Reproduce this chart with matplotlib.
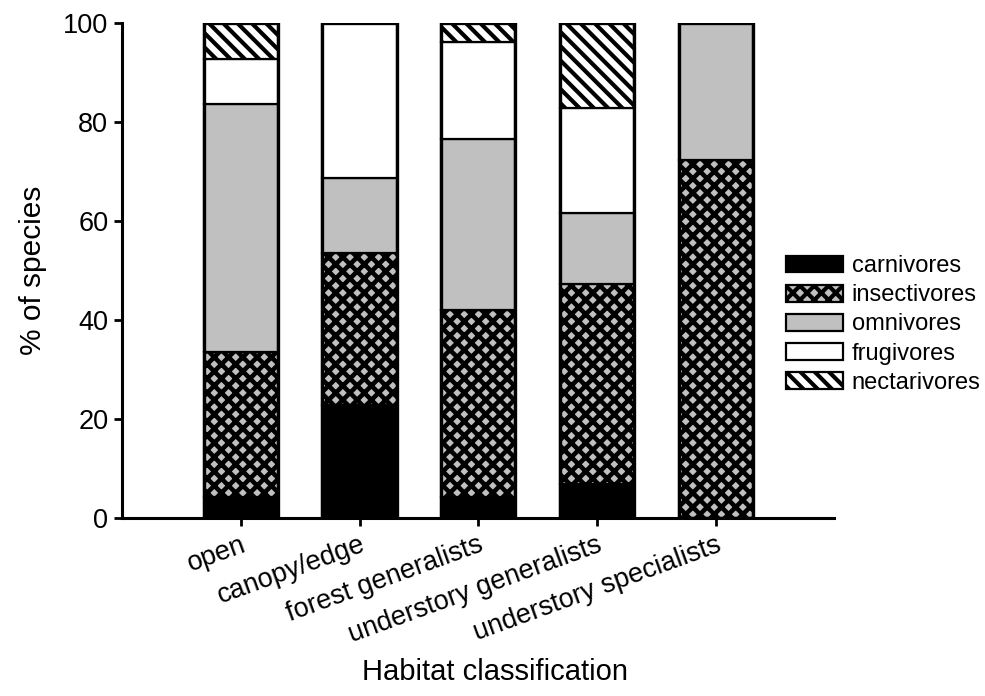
import matplotlib
matplotlib.use("Agg")
import matplotlib.pyplot as plt
from matplotlib.backend_bases import GraphicsContextBase
import numpy as np

plt.rcParams['font.family'] = ['Liberation Sans', 'DejaVu Sans']

# slightly denser hatch spacing than matplotlib's default
_orig_hatch_path = GraphicsContextBase.get_hatch_path
def _hatch_path(self, density=6.0):
    return _orig_hatch_path(self, density=7.2)
GraphicsContextBase.get_hatch_path = _hatch_path

habitats = ["open", "canopy/edge", "forest generalists", "understory generalists", "understory specialists"]
carnivores = [4.2, 22.8, 4.2, 6.9, 0.0]
insectivores = [29.3, 30.7, 37.8, 40.4, 72.3]
omnivores = [50.1, 15.2, 34.6, 14.3, 27.7]
frugivores = [9.1, 31.3, 19.6, 21.2, 0.0]
nectarivores = [7.3, 0.0, 3.8, 17.2, 0.0]

series = [
    ("carnivores", carnivores, "black", None),
    ("insectivores", insectivores, "#c0c0c0", "xx"),
    ("omnivores", omnivores, "#c0c0c0", None),
    ("frugivores", frugivores, "white", None),
    ("nectarivores", nectarivores, "white", "\\\\"),
]

fig = plt.figure(figsize=(9.85, 6.96), dpi=100)
ax = fig.add_axes([0.124, 0.256, 0.723, 0.711])

x = np.arange(len(habitats))
bottom = np.zeros(len(habitats))
handles = []
for name, vals, color, hatch in series:
    vals = np.array(vals, dtype=float)
    lw_h = 3.3 if hatch == "xx" else 3.0
    plt.rcParams['hatch.linewidth'] = lw_h
    bars = ax.bar(x, vals, width=0.625, bottom=bottom, color=color,
                  edgecolor="black", linewidth=1.6, hatch=hatch, label=name)
    for b in bars:
        if hasattr(b, "set_hatch_linewidth"):
            b.set_hatch_linewidth(lw_h)
    handles.append(bars)
    bottom = bottom + vals

# outer outline of each stacked bar
ax.bar(x, bottom, width=0.625, fill=False, edgecolor="black", linewidth=2.4)

ax.set_xlim(-1.0, 5.0)
ax.set_ylim(0, 100)
ax.set_yticks([0, 20, 40, 60, 80, 100])
ax.set_xticks(x)
ax.set_xticklabels(habitats, rotation=20, ha="right", va="top",
                   rotation_mode="anchor", fontsize=19.5)
for s in ["top", "right"]:
    ax.spines[s].set_visible(False)
for s in ["left", "bottom"]:
    ax.spines[s].set_linewidth(2.2)
ax.tick_params(axis="y", direction="out", length=6, width=2.0, labelsize=19.5, pad=4)
ax.tick_params(axis="x", direction="out", length=6, width=2.0, pad=4)
ax.set_ylabel("% of species", fontsize=21.5)
ax.yaxis.set_label_coords(-0.105, 0.5)
fig.text(495 / 985, 1 - 672 / 696, "Habitat classification", fontsize=21,
         ha="center", va="center")

leg = fig.legend(handles=handles, labels=[s[0] for s in series],
                 loc="center left", bbox_to_anchor=(786 / 985, 1 - 324.5 / 696),
                 frameon=False, fontsize=17, handlelength=2.4, handleheight=0.72,
                 labelspacing=0.3, handletextpad=0.38, borderpad=0, borderaxespad=0)

fig.savefig("out.png", dpi=100)
